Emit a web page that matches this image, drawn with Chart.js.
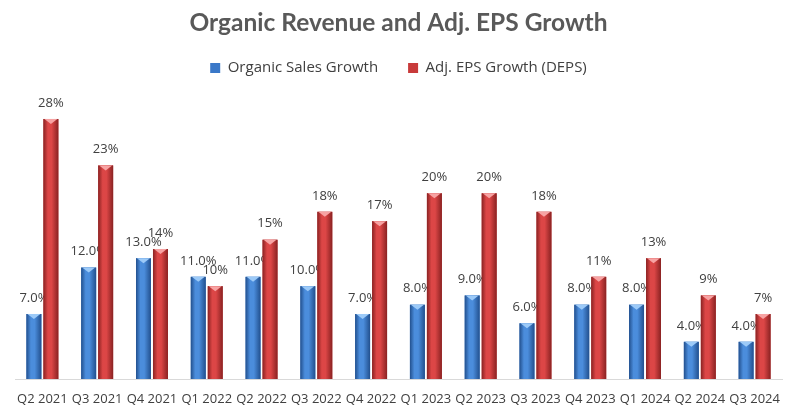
<!DOCTYPE html>
<html><head><meta charset="utf-8">
<script src="https://cdn.jsdelivr.net/npm/chart.js@4"></script>
<style>html,body{margin:0;padding:0;background:#fff}#wrap{width:792px;height:407px}</style>
</head><body><div id="wrap"><canvas id="c" width="792" height="407"></canvas></div>
<script>
const categories = ["Q2 2021","Q3 2021","Q4 2021","Q1 2022","Q2 2022","Q3 2022","Q4 2022","Q1 2023","Q2 2023","Q3 2023","Q4 2023","Q1 2024","Q2 2024","Q3 2024"];
const organicSales = [7,12,13,11,11,10,7,8,9,6,8,8,4,4];
const adjEPS = [28,23,14,10,15,18,17,20,20,18,11,13,9,7];
const seriesNames = ["Organic Sales Growth","Adj. EPS Growth (DEPS)"];

const palettes = [
  {edge:'#22508e', mid:'#4b8ddc', light:'#9ccaf8', solid:'#3a78c8'},
  {edge:'#8a2222', mid:'#dc4646', light:'#f7a3a3', solid:'#c83a3a'}
];

function barGradient(ctx, x0, x1, p){
  const g = ctx.createLinearGradient(x0,0,x1,0);
  g.addColorStop(0,p.edge);
  g.addColorStop(0.3,p.mid);
  g.addColorStop(0.55,p.mid);
  g.addColorStop(1,p.edge);
  return g;
}

const gradientPlugin = {
  id:'gradBars',
  afterDatasetsDraw(chart){
    const ctx = chart.ctx;
    chart.data.datasets.forEach((ds,di)=>{
      const meta = chart.getDatasetMeta(di);
      const p = palettes[di];
      meta.data.forEach((el,i)=>{
        const x0 = el.x - el.width/2, x1 = el.x + el.width/2;
        ctx.save();
        ctx.fillStyle = barGradient(ctx, x0, x1, p);
        ctx.fillRect(x0, el.y, el.width, el.base - el.y);
        ctx.fillStyle = p.light;
        ctx.beginPath();
        ctx.moveTo(x0+1, el.y);
        ctx.lineTo(x1-1, el.y);
        ctx.lineTo(el.x, el.y+5);
        ctx.closePath();
        ctx.fill();
        ctx.fillStyle = '#404040';
        ctx.font = '13px "Open Sans", sans-serif';
        ctx.textAlign = 'center';
        ctx.textBaseline = 'middle';
        const v = ds.data[i];
        const label = di===0 ? v.toFixed(1)+'%' : v+'%';
        ctx.fillText(label, el.x, el.y - 16);
        ctx.restore();
      });
    });
  }
};

const legendSpace = {
  id:'legendSpace',
  beforeInit(chart){
    const fit = chart.legend.fit;
    chart.legend.fit = function(){ fit.bind(chart.legend)(); this.height += 15; };
  }
};

new Chart(document.getElementById('c'),{
  type:'bar',
  data:{
    labels:categories,
    datasets:[
      {label:seriesNames[0], data:organicSales, backgroundColor:palettes[0].solid, categoryPercentage:0.62, barPercentage:0.88},
      {label:seriesNames[1], data:adjEPS, backgroundColor:palettes[1].solid, categoryPercentage:0.62, barPercentage:0.88}
    ]
  },
  options:{
    responsive:false,
    animation:false,
    layout:{padding:{left:15,right:10,top:0,bottom:0}},
    plugins:{
      title:{display:true,text:'Organic Revenue and Adj. EPS Growth',color:'#595959',
        font:{family:'Lato',size:24.5,weight:'bold'},padding:{top:8,bottom:-7}},
      legend:{display:true,
        labels:{color:'#404040',font:{family:'"Open Sans"',size:15},boxWidth:10,boxHeight:10,padding:30}},
      tooltip:{enabled:false}
    },
    scales:{
      x:{grid:{display:false},border:{display:true,color:'#d9d9d9',width:1},
        afterFit(scale){ scale.height = 28; },
        ticks:{color:'#404040',font:{family:'"Open Sans"',size:13},padding:4,maxRotation:0,autoSkip:false}},
      y:{display:false,min:0,max:30}
    }
  },
  plugins:[gradientPlugin,legendSpace]
});
</script></body></html>
